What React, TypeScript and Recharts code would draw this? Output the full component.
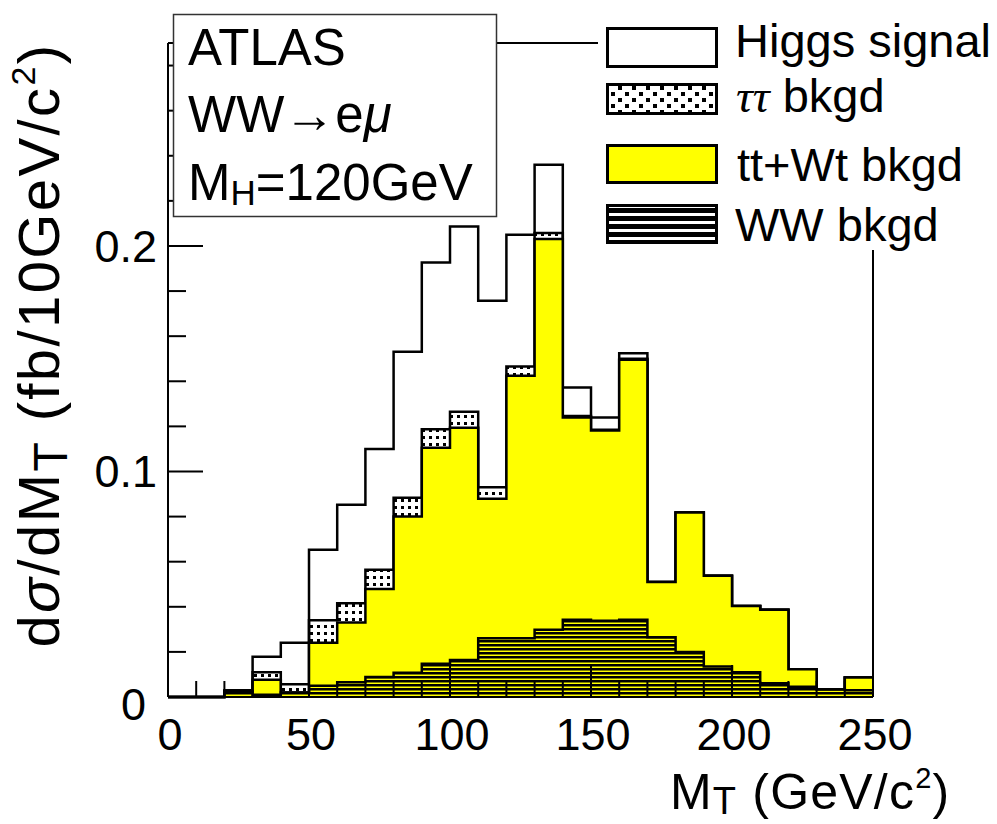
import React from 'react';
import { ComposedChart, Area, XAxis, YAxis, ReferenceLine } from 'recharts';

// Bin lower edges (GeV/c^2), 10 GeV bins
const binLow = [0, 10, 20, 30, 40, 50, 60, 70, 80, 90, 100, 110, 120, 130, 140, 150, 160, 170, 180, 190, 200, 210, 220, 230, 240];
const xEnd = 250;

// Contribution of each process per bin (fb / 10 GeV/c^2)
const wwBkgd = [0, 0, 0.0025, 0.001, 0.002, 0.005, 0.0065, 0.0089, 0.0107, 0.0147, 0.0164, 0.026, 0.026, 0.0298, 0.0342, 0.0338, 0.0342, 0.0265, 0.02, 0.0135, 0.011, 0.0061, 0.0046, 0.0034, 0.003];
const ttWtBkgd = [0, 0, 0, 0.0066, 0, 0.0191, 0.0265, 0.039, 0.0693, 0.0958, 0.103, 0.0619, 0.1164, 0.1733, 0.0897, 0.0844, 0.1153, 0.0245, 0.0618, 0.0403, 0.0294, 0.0326, 0.0077, 0, 0.0056];
const tautauBkgd = [0, 0, 0, 0.0034, 0.0036, 0.0099, 0.0086, 0.0085, 0.0083, 0.0082, 0.0071, 0.0051, 0.0041, 0.0027, 0.0007, 0.0003, 0.0005, 0, 0, 0, 0, 0, 0, 0, 0];
const higgsSignal = [0, 0, 0.0005, 0.0069, 0.0185, 0.0313, 0.0437, 0.0536, 0.0648, 0.074, 0.0821, 0.0827, 0.0585, 0.0302, 0.0126, 0.0054, 0.0024, 0, 0, 0, 0, 0, 0, 0, 0];

const xMajorTicks = [0, 50, 100, 150, 200, 250];
const yMajorTicks = [0, 0.1, 0.2];
const yMinorTicks = [0.02, 0.04, 0.06, 0.08, 0.12, 0.14, 0.16, 0.18, 0.22, 0.24, 0.26, 0.28];
const yMax = 0.29;

const legendLabels = ['Higgs signal', 'bkgd', 'tt+Wt bkgd', 'WW bkgd'];

// cumulative (stacked) levels, drawn as overlaid histograms from zero
const rows = [...binLow, xEnd].map((x, i) => {
  const j = Math.min(i, binLow.length - 1);
  const ww = wwBkgd[j];
  const tt = ww + ttWtBkgd[j];
  const tau = tt + tautauBkgd[j];
  const total = tau + higgsSignal[j];
  return { x, ww, tt, tau, total };
});

const FONT = '"Liberation Sans", Arial, Helvetica, sans-serif';
const SERIF = '"Liberation Serif", "Times New Roman", serif';

const XTick = (props: any) => {
  const { x, y, payload } = props;
  const v = payload.value;
  const major = xMajorTicks.includes(v);
  return (
    <g>
      <line x1={x} x2={x} y1={y} y2={y - (major ? 32 : 16)} stroke="#000" strokeWidth={2} />
      {major && (
        <text x={x + 2} y={y + 53} textAnchor="middle" fontSize={45} fontFamily={FONT} fill="#000">
          {v}
        </text>
      )}
    </g>
  );
};

const YTick = (props: any) => {
  const { x, y, payload } = props;
  const v = payload.value;
  const major = yMajorTicks.some((t) => Math.abs(t - v) < 1e-9);
  return (
    <g>
      <line x1={x} x2={x + (major ? 35 : 18)} y1={y} y2={y} stroke="#000" strokeWidth={2} />
      {major && (
        <text
          x={v === 0 ? x - 22 : x - 11}
          y={v === 0 ? y + 23 : y + 16}
          textAnchor="end"
          fontSize={45}
          fontFamily={FONT}
          fill="#000"
        >
          {v === 0 ? '0' : v.toFixed(1)}
        </text>
      )}
    </g>
  );
};

const yTicks = [...yMajorTicks, ...yMinorTicks].sort((a, b) => a - b);
const xTicks = [...binLow, xEnd];

export default function App() {
  return (
    <div style={{ position: 'absolute', left: 0, top: 0, width: 997, height: 824, background: '#fff', overflow: 'hidden' }}>
      <svg width={0} height={0} style={{ position: 'absolute' }}>
        <defs>
          <pattern id="dots" width={7} height={7} patternUnits="userSpaceOnUse">
            <rect x={2} y={2} width={3} height={3} fill="#000" />
          </pattern>
          <pattern id="stripes" width={10} height={4} patternUnits="userSpaceOnUse">
            <rect x={0} y={0} width={10} height={2.5} fill="#000" />
          </pattern>
          <pattern id="dotsLegend" width={14} height={12} patternUnits="userSpaceOnUse">
            <rect x={2} y={2} width={4} height={4} fill="#000" />
            <rect x={9} y={8} width={4} height={4} fill="#000" />
          </pattern>
          <pattern id="stripesLegend" width={10} height={8} patternUnits="userSpaceOnUse">
            <rect x={0} y={0} width={10} height={5} fill="#000" />
          </pattern>
        </defs>
      </svg>
      <ComposedChart width={997} height={824} data={rows} margin={{ top: 43, right: 124, bottom: 0, left: 0 }}>
        <XAxis
          dataKey="x"
          type="number"
          domain={[0, xEnd]}
          ticks={xTicks}
          interval={0}
          height={127}
          tickSize={0}
          tickMargin={0}
          tickLine={false}
          axisLine={{ stroke: '#000', strokeWidth: 2 }}
          tick={(p: any) => <XTick {...p} />}
        />
        <YAxis
          type="number"
          domain={[0, yMax]}
          ticks={yTicks}
          interval={0}
          width={168}
          tickSize={0}
          tickMargin={0}
          tickLine={false}
          axisLine={{ stroke: '#000', strokeWidth: 2 }}
          tick={(p: any) => <YTick {...p} />}
        />
        <Area dataKey="total" type="stepAfter" fill="#ffffff" fillOpacity={1} stroke="#000" strokeWidth={2.5} isAnimationActive={false} dot={false} activeDot={false} />
        <Area dataKey="tau" type="stepAfter" fill="url(#dots)" fillOpacity={1} stroke="#000" strokeWidth={2.5} isAnimationActive={false} dot={false} activeDot={false} />
        <Area dataKey="tt" type="stepAfter" fill="#ffff00" fillOpacity={1} stroke="#000" strokeWidth={2.5} isAnimationActive={false} dot={false} activeDot={false} />
        <Area dataKey="ww" type="stepAfter" fill="url(#stripes)" fillOpacity={1} stroke="#000" strokeWidth={2.5} isAnimationActive={false} dot={false} activeDot={false} />
        <ReferenceLine y={yMax} stroke="#000" strokeWidth={2} />
        <ReferenceLine x={xEnd} stroke="#000" strokeWidth={2} />
      </ComposedChart>
      <svg width={997} height={824} style={{ position: 'absolute', left: 0, top: 0, pointerEvents: 'none' }}>
        {/* info box */}
        <rect x={173.5} y={14.5} width={323} height={202} fill="#fff" stroke="#333" strokeWidth={1.5} />
        <text x={188} y={65} fontSize={51} fontFamily={FONT} fill="#000">ATLAS</text>
        <text x={188} y={132} fontSize={51} fontFamily={FONT} fill="#000">
          WW→e<tspan fontStyle="italic">μ</tspan>
        </text>
        <text x={188} y={200} fontSize={51} fontFamily={FONT} fill="#000">
          M<tspan fontSize={35} dy={5}>H</tspan>
          <tspan dy={-5}>=120GeV</tspan>
        </text>
        {/* legend */}
        <rect x={598} y={0} width={399} height={250} fill="#fff" />
        <rect x={607.5} y={28.5} width={109} height={38} fill="#fff" stroke="#000" strokeWidth={3} />
        <rect x={607.5} y={84.5} width={109} height={29} fill="#fff" stroke="#000" strokeWidth={3} />
        <rect x={607.5} y={84.5} width={109} height={29} fill="url(#dotsLegend)" stroke="#000" strokeWidth={3} />
        <rect x={607.5} y={145.5} width={109} height={37} fill="#ffff00" stroke="#000" strokeWidth={3} />
        <rect x={607.5} y={205.5} width={109} height={37} fill="#fff" stroke="#000" strokeWidth={3} />
        <rect x={607.5} y={205.5} width={109} height={37} fill="url(#stripesLegend)" stroke="#000" strokeWidth={3} />
        <text x={735} y={57} fontSize={47} fontFamily={FONT} fill="#000">{legendLabels[0]}</text>
        <text x={736} y={112} fontSize={47} fontFamily={FONT} fill="#000">
          <tspan fontFamily={SERIF} fontStyle="italic">ττ</tspan> {legendLabels[1]}
        </text>
        <text x={737} y={181} fontSize={47} fontFamily={FONT} fill="#000">{legendLabels[2]}</text>
        <text x={735} y={241} fontSize={47} fontFamily={FONT} fill="#000">{legendLabels[3]}</text>
        {/* axis titles */}
        <text transform="translate(59,345) rotate(-90)" textAnchor="middle" fontSize={58} letterSpacing={2.4} fontFamily={FONT} fill="#000">
          d<tspan fontStyle="italic">σ</tspan>/dM<tspan fontSize={48} dy={8}>T</tspan>
          <tspan dy={-8}> (fb/10GeV/c</tspan>
          <tspan fontSize={34} dy={-24}>2</tspan>
          <tspan dy={24}>)</tspan>
        </text>
        <text x={670} y={809} fontSize={50} letterSpacing={1.2} fontFamily={FONT} fill="#000">
          M<tspan fontSize={38} dy={5}>T</tspan>
          <tspan dy={-5}> (GeV/c</tspan>
          <tspan fontSize={29} dy={-21}>2</tspan>
          <tspan dy={21}>)</tspan>
        </text>
      </svg>
    </div>
  );
}
